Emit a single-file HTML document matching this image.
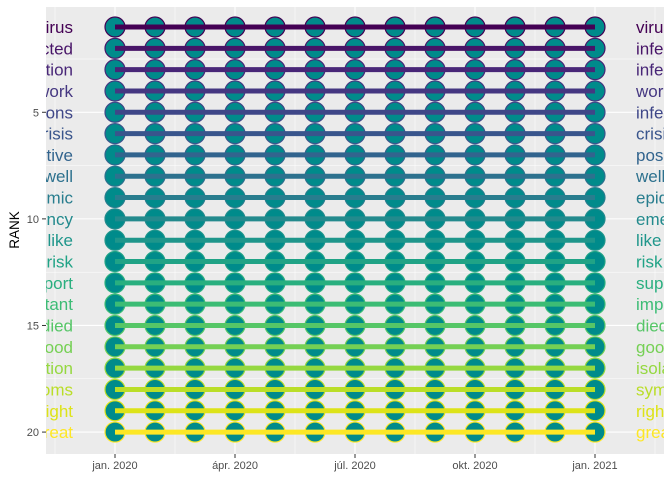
<!DOCTYPE html>
<html><head><meta charset="utf-8"><style>
body{margin:0;background:#fff}
svg{display:block;font-family:"Liberation Sans",sans-serif}
</style></head><body>
<svg id="c" width="672" height="480"></svg>
<script>
const months=["2020-01","2020-02","2020-03","2020-04","2020-05","2020-06","2020-07","2020-08","2020-09","2020-10","2020-11","2020-12","2021-01"];
const words=["virus","infected","infection","work","infections","crisis","positive","well","epidemic","emergency","like","risk","support","important","died","good","isolation","symptoms","right","great"];
const ranks=[
[1,1,1,1,1,1,1,1,1,1,1,1,1],[2,2,2,2,2,2,2,2,2,2,2,2,2],[3,3,3,3,3,3,3,3,3,3,3,3,3],[4,4,4,4,4,4,4,4,4,4,4,4,4],
[5,5,5,5,5,5,5,5,5,5,5,5,5],[6,6,6,6,6,6,6,6,6,6,6,6,6],[7,7,7,7,7,7,7,7,7,7,7,7,7],[8,8,8,8,8,8,8,8,8,8,8,8,8],
[9,9,9,9,9,9,9,9,9,9,9,9,9],[10,10,10,10,10,10,10,10,10,10,10,10,10],[11,11,11,11,11,11,11,11,11,11,11,11,11],[12,12,12,12,12,12,12,12,12,12,12,12,12],
[13,13,13,13,13,13,13,13,13,13,13,13,13],[14,14,14,14,14,14,14,14,14,14,14,14,14],[15,15,15,15,15,15,15,15,15,15,15,15,15],[16,16,16,16,16,16,16,16,16,16,16,16,16],
[17,17,17,17,17,17,17,17,17,17,17,17,17],[18,18,18,18,18,18,18,18,18,18,18,18,18],[19,19,19,19,19,19,19,19,19,19,19,19,19],[20,20,20,20,20,20,20,20,20,20,20,20,20]];
const yTicks=[5,10,15,20];
const xTickIdx=[0,3,6,9,12];
const xTickLabels=["jan. 2020","ápr. 2020","júl. 2020","okt. 2020","jan. 2021"];
const pal=["#440154","#481568","#482677","#453781","#3F4788","#39558C","#32648E","#2D718E","#287D8E","#238A8D","#1F968B","#20A386","#29AF7F","#3CBC75","#56C667","#75D054","#95D840","#BADE28","#DDE318","#FDE725"];
const P={l:46,t:7,r:664,b:454};
const x=i=>115+i*40;
const y=r=>27+(r-1)*21.32;
const svg=document.getElementById('c');const NS="http://www.w3.org/2000/svg";
function mk(t,a,p){const e=document.createElementNS(NS,t);for(const k in a)e.setAttribute(k,a[k]);(p||svg).appendChild(e);return e;}
const defs=mk('defs',{});const cp=mk('clipPath',{id:'pc'},defs);mk('rect',{x:P.l,y:P.t,width:P.r-P.l,height:P.b-P.t},cp);
const bg=mk('rect',{x:P.l,y:P.t,width:P.r-P.l,height:P.b-P.t,fill:'#EBEBEB'});


const g=mk('g',{'clip-path':'url(#pc)'});


for(let i=0;i<yTicks.length;i++){mk('line',{x1:P.l,x2:P.r,y1:y(yTicks[i]),y2:y(yTicks[i]),stroke:'#fff','stroke-width':1.1},g);
 mk('line',{x1:P.l,x2:P.r,y1:y(yTicks[i]-2.5),y2:y(yTicks[i]-2.5),stroke:'#fff','stroke-width':0.5},g);}
for(let i=-1;i<=4;i++){const xm=x(i*3+1.5);mk('line',{x1:xm,x2:xm,y1:P.t,y2:P.b,stroke:'#fff','stroke-width':0.5},g);}
xTickIdx.forEach(i=>mk('line',{x1:x(i),x2:x(i),y1:P.t,y2:P.b,stroke:'#fff','stroke-width':1.1},g));
words.forEach((w,k)=>{ranks[k].forEach((r,i)=>{const c=mk('circle',{cx:x(i),cy:y(r),r:10,fill:'#008B8B',stroke:pal[k],'stroke-width':1.2},g);
 
 });});
words.forEach((w,k)=>{const d=ranks[k].map((r,i)=>(i?'L':'M')+x(i)+','+y(r)).join('');
 const l=mk('path',{d:d,stroke:pal[k],'stroke-width':5,fill:'none'},g);
 
 });
words.forEach((w,k)=>{const r0=ranks[k][0],r1=ranks[k][12];
 const a=mk('text',{x:73,y:y(r0)+6,'text-anchor':'end','font-size':17,fill:pal[k]},g);a.textContent=w;
 
 
 const b=mk('text',{x:636,y:y(r1)+6,'font-size':17,fill:pal[k]},g);b.textContent=w;
 
 });
yTicks.forEach(v=>{mk('line',{x1:42,x2:46,y1:y(v),y2:y(v),stroke:'#333'});
 const t=mk('text',{x:39,y:y(v)+4,'text-anchor':'end','font-size':11,fill:'#4D4D4D'});t.textContent=v;
 
 });
xTickIdx.forEach((i,j)=>{mk('line',{x1:x(i),x2:x(i),y1:P.b,y2:P.b+4,stroke:'#333'});
 const t=mk('text',{x:x(i),y:P.b+15,'text-anchor':'middle','font-size':11,fill:'#4D4D4D'});t.textContent=xTickLabels[j];
 
 });
const yt=mk('text',{x:0,y:0,transform:'translate(19,230) rotate(-90)','text-anchor':'middle','font-size':13.5,fill:'#000'});yt.textContent='RANK';


</script>
</body></html>
